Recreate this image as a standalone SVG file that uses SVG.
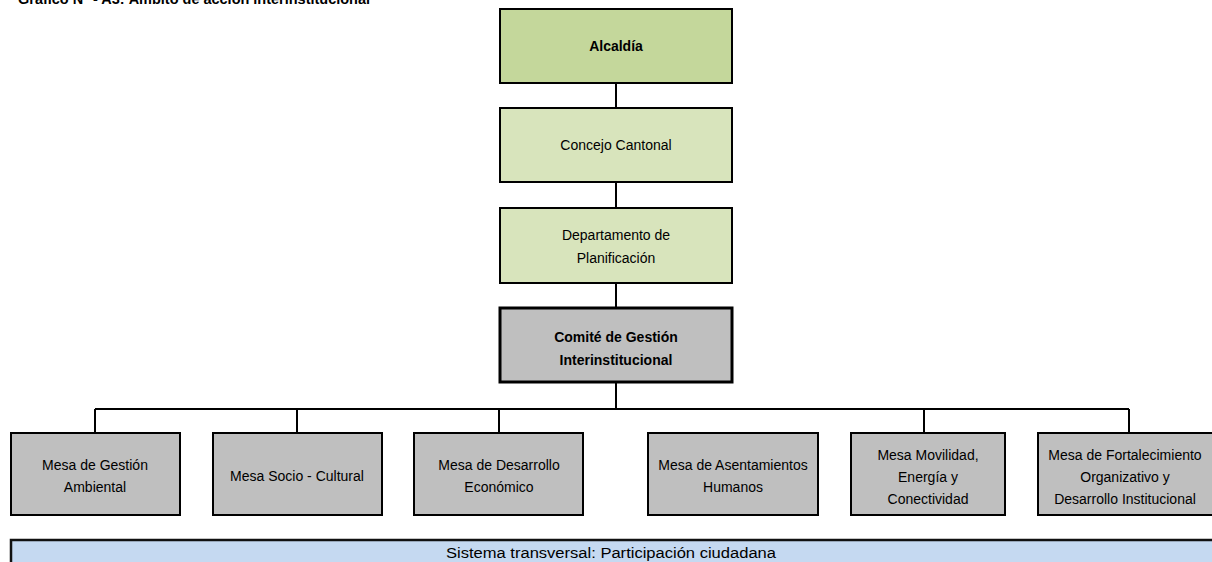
<svg xmlns="http://www.w3.org/2000/svg" width="1212" height="562" viewBox="0 0 1212 562">
<style>
text{font-family:"Liberation Sans",Arial,sans-serif;fill:#000;text-anchor:middle}
.t{font-size:14px}
.b{font-size:14px;font-weight:bold}
.g1{fill:#C4D79B;stroke:#000;stroke-width:2}
.g2{fill:#D8E4BC;stroke:#000;stroke-width:2}
.gr{fill:#BFBFBF;stroke:#000;stroke-width:2}
.bl{fill:#C5D9F1;stroke:#111;stroke-width:2.5}
.c{fill:none;stroke:#000;stroke-width:2}
</style>
<rect width="1212" height="562" fill="#fff"/>
<text x="18" y="4" style="text-anchor:start;font-size:14px;font-weight:bold" textLength="352" lengthAdjust="spacingAndGlyphs">Gráfico N° - A3: Ámbito de acción interinstitucional</text>
<g id="connectors">
<path class="c" d="M616 83V108M616 182V208M616 283V308M616 382V409M95 409H1129M95 409V433M297 409V433M499 409V433M924 409V433M1129 409V433"/>
</g>
<g id="alcaldia"><rect class="g1" x="500" y="9" width="232" height="74"/><text class="b" x="616" y="51">Alcaldía</text></g>
<g id="concejo"><rect class="g2" x="500" y="108" width="232" height="74"/><text class="t" x="616" y="150">Concejo Cantonal</text></g>
<g id="departamento"><rect class="g2" x="500" y="208" width="232" height="75"/><text class="t" x="616" y="240">Departamento de</text><text class="t" x="616" y="263">Planificación</text></g>
<g id="comite"><rect class="gr" x="500" y="308" width="232" height="74" style="stroke-width:3"/><text class="b" x="616" y="342">Comité de Gestión</text><text class="b" x="616" y="365">Interinstitucional</text></g>
<g id="mesa1"><rect class="gr" x="11" y="433" width="169" height="82"/><text class="t" x="95" y="470">Mesa de Gestión</text><text class="t" x="95" y="492">Ambiental</text></g>
<g id="mesa2"><rect class="gr" x="213" y="433" width="169" height="82"/><text class="t" x="297" y="481">Mesa Socio - Cultural</text></g>
<g id="mesa3"><rect class="gr" x="414" y="433" width="169" height="82"/><text class="t" x="499" y="470">Mesa de Desarrollo</text><text class="t" x="499" y="492">Económico</text></g>
<g id="mesa4"><rect class="gr" x="648" y="433" width="170" height="82"/><text class="t" x="733" y="470">Mesa de Asentamientos</text><text class="t" x="733" y="492">Humanos</text></g>
<g id="mesa5"><rect class="gr" x="851" y="433" width="154" height="82"/><text class="t" x="928" y="460">Mesa Movilidad,</text><text class="t" x="928" y="482">Energía y</text><text class="t" x="928" y="504">Conectividad</text></g>
<g id="mesa6"><rect class="gr" x="1038" y="433" width="180" height="82"/><text class="t" x="1125" y="460">Mesa de Fortalecimiento</text><text class="t" x="1125" y="482">Organizativo y</text><text class="t" x="1125" y="504">Desarrollo Institucional</text></g>
<g id="sistema"><rect class="bl" x="11" y="540" width="1210" height="30"/><text class="t" x="611" y="558" textLength="330" lengthAdjust="spacingAndGlyphs">Sistema transversal: Participación ciudadana</text></g>
</svg>
